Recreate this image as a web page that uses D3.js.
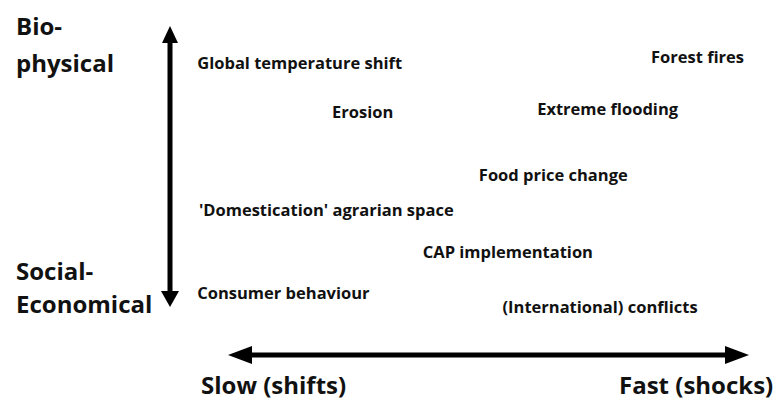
<!DOCTYPE html>
<html>
<head>
<meta charset="utf-8">
<script src="https://cdn.jsdelivr.net/npm/d3@7"></script>
<style>
  body { margin: 0; background: #fff; }
  svg { display: block; }
  text { font-family: 'Open Sans', Lato, sans-serif; font-weight: bold; fill: #111; }
</style>
</head>
<body>
<svg id="chart"></svg>
<script>
const width = 774
const height = 410

// factors, placed on speed (0 slow .. 10 fast) and nature (0 social-economical .. 10 bio-physical)
const labels = [
  'Global temperature shift',
  'Forest fires',
  'Erosion',
  'Extreme flooding',
  'Food price change',
  "'Domestication' agrarian space",
  'CAP implementation',
  'Consumer behaviour',
  '(International) conflicts',
]
const speed = [-0.05, 8.2, 2.4, 6.13, 5.07, -0.02, 4.05, -0.05, 5.5]
const nature = [8.7, 8.9, 6.95, 7.05, 4.68, 3.42, 1.9, 0.43, -0.07]

const yTop = ['Bio-', 'physical']
const yBottom = ['Social-', 'Economical']
const xLeft = 'Slow (shifts)'
const xRight = 'Fast (shocks)'

const svg = d3.select('#chart').attr('width', width).attr('height', height)

const x = d3.scaleLinear().domain([0, 10]).range([200, 750])
const y = d3.scaleLinear().domain([0, 10]).range([305, 27])

// factor labels
svg
  .append('g')
  .selectAll('text')
  .data(labels)
  .join('text')
  .attr('x', (d, i) => x(speed[i]))
  .attr('y', (d, i) => y(nature[i]))
  .attr('dy', '0.35em')
  .style('font-size', '16.5px')
  .text((d) => d)

// arrows
const ax = 170 // vertical arrow x
const ay = 355 // horizontal arrow y
const arrows = svg.append('g').attr('fill', '#000')

// vertical shaft + heads
arrows.append('rect').attr('x', ax - 2.5).attr('y', 38).attr('width', 5).attr('height', 258)
arrows.append('path').attr('d', `M${ax},${y(10) - 1} L${ax + 8},${y(10) + 16} L${ax - 8},${y(10) + 16}Z`)
arrows.append('path').attr('d', `M${ax},${y(0) + 2} L${ax + 9},${y(0) - 14} L${ax - 9},${y(0) - 14}Z`)

// horizontal shaft + heads
const xl = 228
const xr = 749
arrows.append('rect').attr('x', xl + 18).attr('y', ay - 2.5).attr('width', xr - xl - 36).attr('height', 5)
arrows.append('path').attr('d', `M${xl},${ay} L${xl + 24},${ay - 9} L${xl + 24},${ay + 9}Z`)
arrows.append('path').attr('d', `M${xr},${ay} L${xr - 24},${ay - 9} L${xr - 24},${ay + 9}Z`)

// axis end labels
const big = svg.append('g').style('font-size', '24px')
big
  .selectAll('text.top')
  .data(yTop)
  .join('text')
  .attr('class', 'top')
  .attr('x', 16)
  .attr('y', (d, i) => 35 + i * 37)
  .text((d) => d)

big
  .selectAll('text.bottom')
  .data(yBottom)
  .join('text')
  .attr('class', 'bottom')
  .attr('x', 16)
  .attr('y', (d, i) => 280 + i * 33)
  .text((d) => d)

big.append('text').attr('x', 201).attr('y', 394).text(xLeft)
big.append('text').attr('x', 619).attr('y', 394).text(xRight)

// cut-off title descender at the top edge
svg.append('text').attr('x', 286).attr('y', -4).style('font-size', '15px').text('g')
</script>
</body>
</html>
